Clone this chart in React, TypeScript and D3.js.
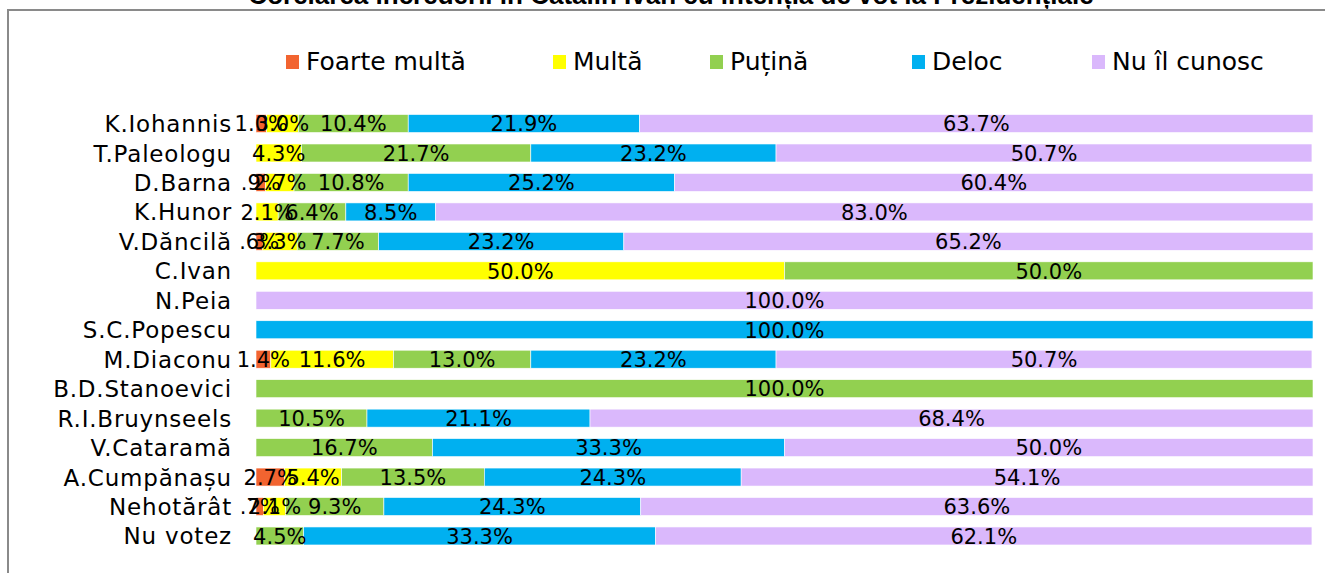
import React from 'react';
import * as d3 from 'd3';

const categories = [
  'K.Iohannis',
  'T.Paleologu',
  'D.Barna',
  'K.Hunor',
  'V.Dăncilă',
  'C.Ivan',
  'N.Peia',
  'S.C.Popescu',
  'M.Diaconu',
  'B.D.Stanoevici',
  'R.I.Bruynseels',
  'V.Cataramă',
  'A.Cumpănașu',
  'Nehotărât',
  'Nu votez',
];

const foarteMulta = [1.0, 0, 0.9, 0, 0.6, 0, 0, 0, 1.4, 0, 0, 0, 2.7, 0.7, 0];
const multa = [3.0, 4.3, 2.7, 2.1, 3.3, 50.0, 0, 0, 11.6, 0, 0, 0, 5.4, 2.1, 0];
const putina = [10.4, 21.7, 10.8, 6.4, 7.7, 50.0, 0, 0, 13.0, 100.0, 10.5, 16.7, 13.5, 9.3, 4.5];
const deloc = [21.9, 23.2, 25.2, 8.5, 23.2, 0, 0, 100.0, 23.2, 0, 21.1, 33.3, 24.3, 24.3, 33.3];
const nuIlCunosc = [63.7, 50.7, 60.4, 83.0, 65.2, 0, 100.0, 0, 50.7, 0, 68.4, 50.0, 54.1, 63.6, 62.1];

const seriesNames = ['Foarte multă', 'Multă', 'Puțină', 'Deloc', 'Nu îl cunosc'];
const seriesColors = ['#F26430', '#FFFF00', '#92D050', '#00B0F0', '#DAB8FC'];
const seriesValues = [foarteMulta, multa, putina, deloc, nuIlCunosc];

const title = 'Corelarea încrederii în Cătălin Ivan cu intenția de vot la Prezidențiale';

const W = 1325;
const H = 573;
const FONT = '"DejaVu Sans", sans-serif';

// Excel style "#.0%": no leading zero below 1
const fmt = (v: number) => v.toFixed(1).replace(/^0\./, '.') + '%';

const App = () => {
  const x = d3.scaleLinear().domain([0, 100]).range([256, 1313]);
  const y = d3
    .scaleBand()
    .domain(categories)
    .range([108.8, 550.7])
    .paddingInner(0.389)
    .paddingOuter(0.1945);

  const rows = categories.map((c, i) => {
    const o: any = { cat: c };
    seriesNames.forEach((s, k) => (o[s] = seriesValues[k][i]));
    return o;
  });
  const stacked = d3.stack().keys(seriesNames)(rows);

  const legendX = [286, 553, 710, 912, 1092];

  return (
    <svg
      width={W}
      height={H}
      style={{ position: 'fixed', left: 0, top: 0, background: '#fff' }}
    >
      <text
        x={671}
        y={4}
        textAnchor="middle"
        fontFamily='"Liberation Sans", Arial, sans-serif'
        fontWeight="bold"
        fontSize={26}
      >
        {title}
      </text>
      <path d={`M8,${H} L8,10 L${W},10`} fill="none" stroke="#8a8a8a" strokeWidth={2} />

      {/* legend */}
      {seriesNames.map((s, k) => (
        <g key={s}>
          <rect x={legendX[k]} y={55} width={13} height={14} fill={seriesColors[k]} />
          <text x={legendX[k] + 20} y={70} fontFamily={FONT} fontSize={25} fill="#000">
            {s}
          </text>
        </g>
      ))}

      {/* bars */}
      {stacked.map((layer, k) => (
        <g key={layer.key}>
          {layer.map((d, i) =>
            d[1] - d[0] > 0 ? (
              <rect
                key={i}
                x={x(d[0])}
                y={y(categories[i])}
                width={x(d[1]) - x(d[0])}
                height={y.bandwidth()}
                fill={seriesColors[k]}
                stroke="#fff"
                strokeWidth={0.6}
              />
            ) : null
          )}
        </g>
      ))}

      {/* value labels */}
      {stacked.map((layer) => (
        <g key={'l' + layer.key}>
          {layer.map((d, i) =>
            d[1] - d[0] > 0 ? (
              <text
                key={i}
                x={x((d[0] + d[1]) / 2)}
                y={(y(categories[i]) as number) + y.bandwidth() / 2}
                dy="0.37em"
                textAnchor="middle"
                fontFamily={FONT}
                fontSize={21}
                fill="#000"
              >
                {fmt(d[1] - d[0])}
              </text>
            ) : null
          )}
        </g>
      ))}

      {/* category labels */}
      {categories.map((c) => (
        <text
          key={c}
          x={232}
          y={(y(c) as number) + y.bandwidth() / 2}
          dy="0.37em"
          textAnchor="end"
          fontFamily={FONT}
          fontSize={23}
          letterSpacing={0.8}
          fill="#000"
        >
          {c}
        </text>
      ))}
    </svg>
  );
};

export default App;
